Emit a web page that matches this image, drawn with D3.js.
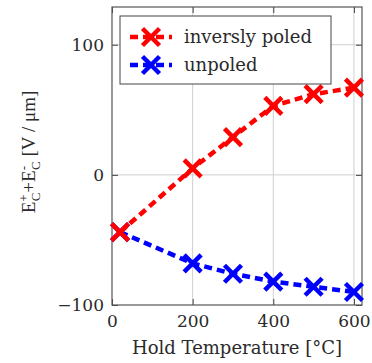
<!DOCTYPE html>
<html>
<head>
<meta charset="utf-8">
<script src="https://cdn.jsdelivr.net/npm/d3@7"></script>
<style>
  body { margin: 0; background: #fff; }
</style>
</head>
<body>
<svg id="chart"></svg>
<script>
// data
var temps = [20, 200, 300, 400, 500, 600];
var inverslyPoled = [-44, 5, 29, 53, 62, 67];
var unpoled = [-44, -68, -76, -82, -86, -90];
var seriesNames = ["inversly poled", "unpoled"];
var xTicks = [0, 200, 400, 600];
var yTicks = [-100, 0, 100];

var width = 372, height = 363;
var margin = { top: 7, right: 10, bottom: 58, left: 112 };
var bookFont = "'DejaVu Serif', serif";
var timesFont = "'Liberation Serif', serif";
var textColor = "#2a2a2a";

var svg = d3.select("#chart")
  .attr("width", width)
  .attr("height", height);

var x = d3.scaleLinear().domain([0, 620]).range([margin.left, width - margin.right]);
var y = d3.scaleLinear().domain([-100, 129]).range([height - margin.bottom, margin.top]);

var x0 = x.range()[0], x1 = x.range()[1];
var y0 = y.range()[0], y1 = y.range()[1];

// grid lines
svg.append("g").selectAll("line")
  .data(xTicks.filter(d => d > 0))
  .enter().append("line")
  .attr("x1", d => x(d)).attr("x2", d => x(d))
  .attr("y1", y0).attr("y2", y1)
  .attr("stroke", "#cfcfcf").attr("stroke-width", 1);

svg.append("g").selectAll("line")
  .data(yTicks.filter(d => d > -100))
  .enter().append("line")
  .attr("x1", x0).attr("x2", x1)
  .attr("y1", d => y(d)).attr("y2", d => y(d))
  .attr("stroke", "#cfcfcf").attr("stroke-width", 1);

// axes with inward ticks, mirrored on top/right
var tickLen = 6;
svg.append("g")
  .attr("transform", "translate(0," + y0 + ")")
  .call(d3.axisBottom(x).tickValues(xTicks).tickSize(-tickLen).tickPadding(9)
    .tickFormat(d => d))
  .call(g => g.select(".domain").remove())
  .call(g => g.selectAll("text").attr("dy", "0.75em"));

svg.append("g")
  .attr("transform", "translate(" + x0 + ",0)")
  .call(d3.axisLeft(y).tickValues(yTicks).tickSize(-tickLen).tickPadding(8)
    .tickFormat(d => d < 0 ? "\u2212" + Math.abs(d) : d))
  .call(g => g.select(".domain").remove());

svg.append("g")
  .attr("transform", "translate(0," + y1 + ")")
  .call(d3.axisTop(x).tickValues(xTicks).tickSize(-tickLen).tickFormat(""))
  .call(g => g.select(".domain").remove());

svg.append("g")
  .attr("transform", "translate(" + x1 + ",0)")
  .call(d3.axisRight(y).tickValues(yTicks).tickSize(-tickLen).tickFormat(""))
  .call(g => g.select(".domain").remove());

svg.selectAll(".tick line").attr("stroke", "#444").attr("stroke-width", 1);
svg.selectAll(".tick text")
  .style("font-family", bookFont)
  .style("font-size", "17px")
  .attr("fill", textColor);

// frame
svg.append("rect")
  .attr("x", x0).attr("y", y1)
  .attr("width", x1 - x0).attr("height", y0 - y1)
  .attr("fill", "none").attr("stroke", "#555").attr("stroke-width", 1.2);

var colors = ["#ff0000", "#0000ff"];
var allSeries = [inverslyPoled, unpoled];

var line = d3.line().x(d => x(d[0])).y(d => y(d[1]));

function drawCross(g, cx, cy, color) {
  var s = 8.5;
  g.append("path")
    .attr("d", "M" + (cx - s) + "," + (cy - s) + "L" + (cx + s) + "," + (cy + s) +
               "M" + (cx - s) + "," + (cy + s) + "L" + (cx + s) + "," + (cy - s))
    .attr("stroke", color).attr("stroke-width", 4.5).attr("fill", "none");
}

// draw unpoled first so red sits on top at shared start point
[1, 0].forEach(function(i) {
  var pts = temps.map((t, j) => [t, allSeries[i][j]]);
  var g = svg.append("g");
  g.append("path")
    .attr("d", line(pts))
    .attr("fill", "none")
    .attr("stroke", colors[i])
    .attr("stroke-width", 4.5)
    .attr("stroke-dasharray", "8,5");
  pts.forEach(p => drawCross(g, x(p[0]), y(p[1]), colors[i]));
});

// legend
var lg = svg.append("g").attr("transform", "translate(120,16)");
lg.append("rect")
  .attr("width", 211).attr("height", 68)
  .attr("fill", "#fff").attr("stroke", "#444").attr("stroke-width", 1);

seriesNames.forEach(function(name, i) {
  var ly = 21 + i * 28;
  lg.append("line")
    .attr("x1", 10).attr("x2", 52)
    .attr("y1", ly).attr("y2", ly)
    .attr("stroke", colors[i]).attr("stroke-width", 4.5)
    .attr("stroke-dasharray", "8,5");
  drawCross(lg, 31, ly, colors[i]);
  lg.append("text")
    .attr("x", 64).attr("y", ly)
    .attr("dy", "0.35em")
    .style("font-family", bookFont)
    .style("font-size", "18px")
    .attr("fill", textColor)
    .text(name);
});

// axis labels
svg.append("text")
  .attr("x", 237).attr("y", 354)
  .attr("text-anchor", "middle")
  .style("font-family", bookFont)
  .style("font-size", "18px")
  .attr("fill", textColor)
  .text("Hold Temperature [\u00B0C]");

var yl = svg.append("text")
  .attr("transform", "translate(35,152) rotate(-90)")
  .attr("text-anchor", "middle")
  .style("font-family", timesFont)
  .style("font-size", "19px")
  .attr("fill", textColor);
yl.append("tspan").text("E");
yl.append("tspan").style("font-size", "13px").attr("dy", -7).text("+");
yl.append("tspan").style("font-size", "13px").attr("dx", -7).attr("dy", 12).text("C");
yl.append("tspan").attr("dy", -5).text("+E");
yl.append("tspan").style("font-size", "13px").attr("dy", -7).text("-");
yl.append("tspan").style("font-size", "13px").attr("dx", -4).attr("dy", 12).text("C");
yl.append("tspan").attr("dy", -5).text(" [V / \u03BCm]");
</script>
</body>
</html>
